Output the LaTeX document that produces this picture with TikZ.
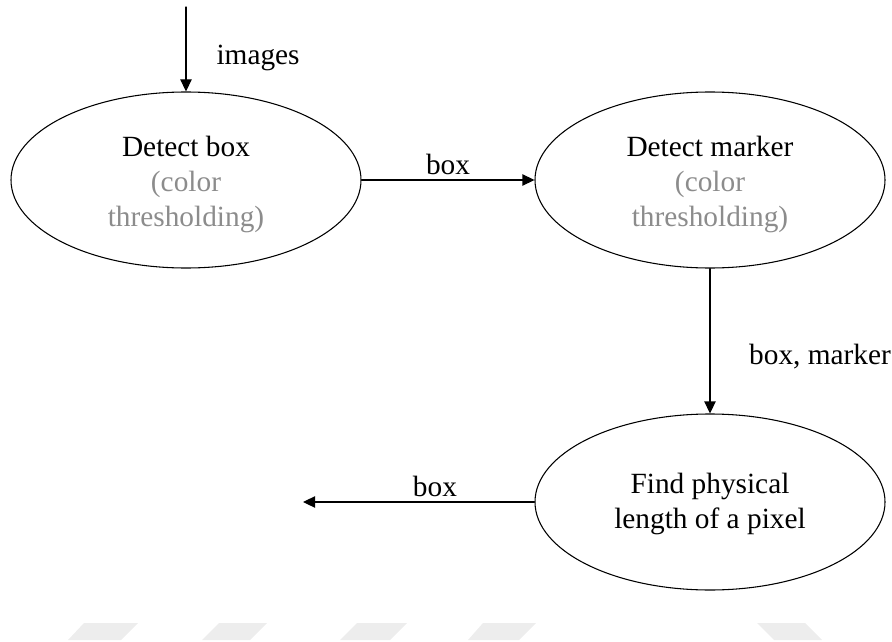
\documentclass[tikz,border=0pt]{standalone}
\usepackage{fontspec}
\setmainfont{Liberation Serif}
\usetikzlibrary{arrows.meta,shapes.geometric,positioning}
\definecolor{c8c8c8c}{rgb}{0.55,0.55,0.55}
\definecolor{cededed}{rgb}{0.93,0.93,0.93}

\begin{document}
\begin{tikzpicture}[line cap=round,line join=round,>={Triangle[length=9pt,width=8.5pt]},x=0.75pt,y=-0.75pt,
  every node/.style={font=\fontsize{22}{26.25}\selectfont},
  stage/.style={draw,line width=0.8pt,ellipse,align=center,inner sep=0pt,minimum width=262.5pt,minimum height=132pt},
  lbl/.style={inner sep=3.5pt},
  flow/.style={->,line width=0.8pt}]
\useasboundingbox (0,0) rectangle (892,642);
% faint marks along the bottom edge
\fill [cededed] (68,640) -- (121,640) -- (138,623) -- (84,623) -- cycle;
\fill [cededed] (202,640) -- (250,640) -- (267,623) -- (219,623) -- cycle;
\fill [cededed] (340,640) -- (390,640) -- (407,623) -- (357,623) -- cycle;
\fill [cededed] (468,640) -- (519,640) -- (536,623) -- (483,623) -- cycle;
\fill [cededed] (774,640) -- (822,640) -- (805,623) -- (757,623) -- cycle;
\node [stage] (box) at (186,180) {\rule{0pt}{22.5pt}Detect box\\{\color{c8c8c8c}(color}\\{\color{c8c8c8c}thresholding)}};
\node [stage] (marker) at (710,180) {\rule{0pt}{22.5pt}Detect marker\\{\color{c8c8c8c}(color}\\{\color{c8c8c8c}thresholding)}};
\node [stage] (phys) at (710,502) {\rule{0pt}{18pt}Find physical\\length of a pixel};
\coordinate (src) at (186,7);
\coordinate (dst) at (303,502);
\draw [flow] (src) -- node[lbl,pos=0.6,right=19pt] {images} (box);
\draw [flow] (box) -- node[lbl,above] {box} (marker);
\draw [flow] (marker) -- node[lbl,pos=0.61,right=25.5pt] {box, marker} (phys);
\draw [flow] (phys) -- node[lbl,pos=0.43,above] {box} (dst);
\end{tikzpicture}
\end{document}
